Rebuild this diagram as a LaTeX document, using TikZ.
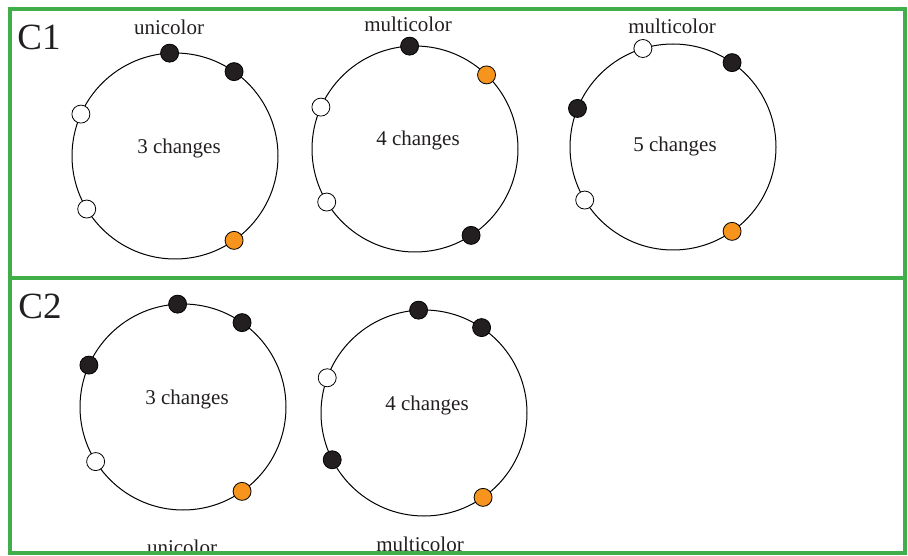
\documentclass[tikz,border=0pt]{standalone}
\usepackage{fontspec}
\setmainfont{Liberation Serif}
\usepackage{xcolor}
\definecolor{cgreen}{RGB}{64,174,73}
\definecolor{corange}{RGB}{247,148,29}
\definecolor{cdark}{RGB}{35,31,32}
\usetikzlibrary{positioning}

\begin{document}
\begin{tikzpicture}[
  x=1pt,y=-1pt,
  every node/.style={text=cdark},
  ring/.style={draw=black,circle,line width=1pt,minimum size=206pt,inner sep=0pt,outer sep=0pt},
  dotb/.style={draw=black,circle,line width=0.8pt,fill=cdark,minimum size=18pt,inner sep=0pt},
  dotw/.style={dotb,fill=white},
  doto/.style={dotb,fill=corange},
  lbl/.style={font=\fontsize{21}{23}\selectfont},
  tag/.style={font=\fontsize{37}{40}\selectfont,anchor=center},
  panel/.style={draw=cgreen,line width=4pt}
]
\useasboundingbox (0,0) rectangle (908,556);

% top row
\node[ring] (r11) at (175,156) {};
\node[lbl] (t11) at (179,148) {3 changes};
\node[lbl] (u11) at (169,27) {unicolor};
\node[dotb] (d11a) at (r11.93) {};
\node[dotb] (d11b) at (r11.55) {};
\node[dotw] (d11c) at (r11.156) {};
\node[dotw] (d11d) at (r11.211) {};
\node[doto] (d11e) at (r11.-55) {};

\node[ring] (r12) at (415,149) {};
\node[lbl] (t12) at (418,140) {4 changes};
\node[lbl] (u12) at (408,24) {multicolor};
\node[dotb] (d12a) at (r12.93) {};
\node[doto] (d12b) at (r12.46) {};
\node[dotw] (d12c) at (r12.156) {};
\node[dotw] (d12d) at (r12.211) {};
\node[dotb] (d12e) at (r12.-57) {};

\node[ring] (r13) at (673,147) {};
\node[lbl] (t13) at (675,146) {5 changes};
\node[lbl] (u13) at (672,26) {multicolor};
\node[dotw] (d13a) at (r13.107) {};
\node[dotb] (d13b) at (r13.55) {};
\node[dotb] (d13c) at (r13.158) {};
\node[dotw] (d13d) at (r13.211) {};
\node[doto] (d13e) at (r13.-55) {};

% bottom row
\node[ring] (r21) at (183,407) {};
\node[lbl] (t21) at (187,399) {3 changes};
\node[lbl] (u21) at (182,547) {unicolor};
\node[dotb] (d21a) at (r21.93) {};
\node[dotb] (d21b) at (r21.55) {};
\node[dotb] (d21c) at (r21.156) {};
\node[dotw] (d21d) at (r21.212) {};
\node[doto] (d21e) at (r21.-55) {};

\node[ring] (r22) at (424,413) {};
\node[lbl] (t22) at (427,405) {4 changes};
\node[lbl] (u22) at (420,544) {multicolor};
\node[dotb] (d22a) at (r22.93) {};
\node[dotb] (d22b) at (r22.56) {};
\node[dotw] (d22c) at (r22.160) {};
\node[dotb] (d22d) at (r22.207) {};
\node[doto] (d22e) at (r22.-55) {};

% panels
\draw[panel] (10,9) rectangle (905,278);
\draw[panel] (10,278) rectangle (905,553);
\node[tag] (c1) at (39,37) {C1};
\node[tag] (c2) at (40,306) {C2};
\end{tikzpicture}
\end{document}
